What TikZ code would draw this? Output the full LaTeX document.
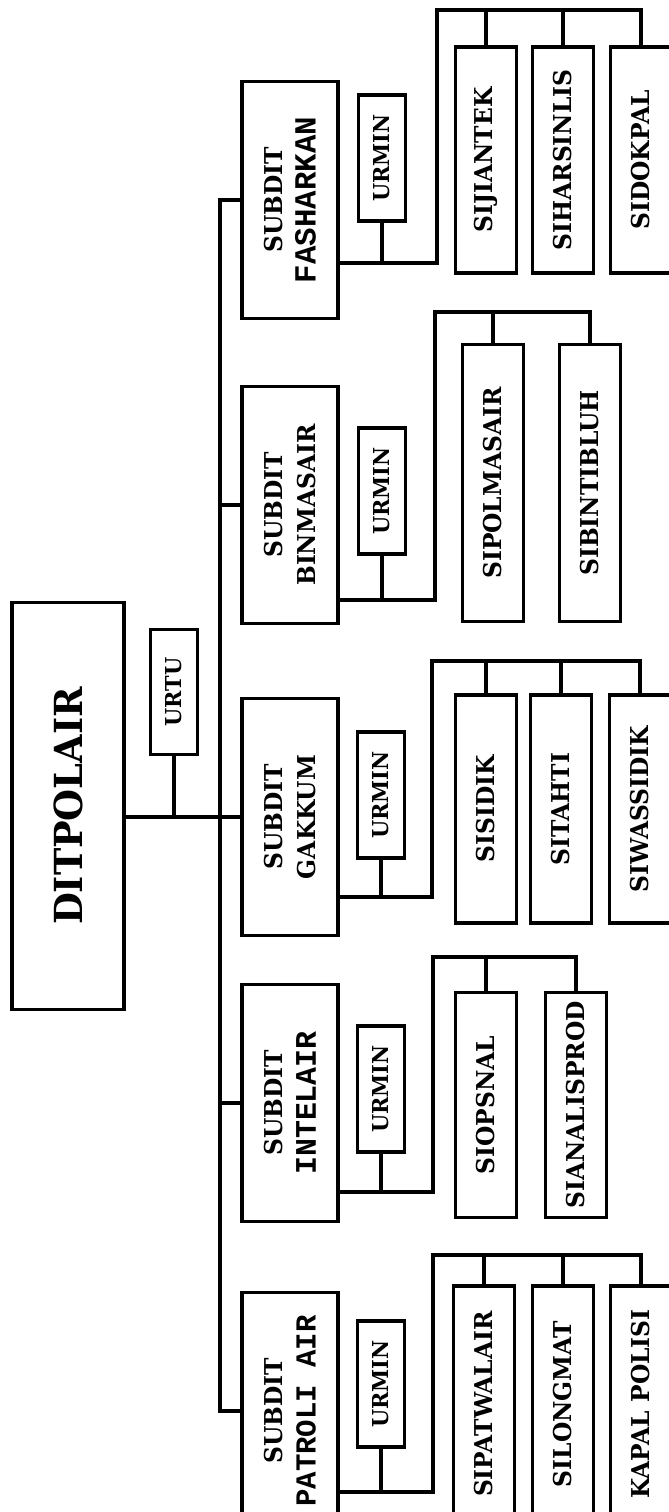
\documentclass[tikz,border=0pt]{standalone}
\usepackage{fontspec}
\setmainfont{DejaVu Serif}[FakeStretch=0.95]
\newfontfamily\typefont{Liberation Mono}
\usepackage{tikz}
\usetikzlibrary{positioning}

\begin{document}
\begin{tikzpicture}[
  x=0.02cm, y=-0.02cm,
  box/.style={draw, line width=2.2pt, rotate=90, inner sep=0pt, align=center,
              font=\bfseries\fontsize{14}{18}\selectfont},
  subbox/.style={box, minimum width=4.74cm, minimum height=1.92cm},
  urbox/.style={box, minimum width=2.52cm, minimum height=0.94cm,
                font=\bfseries\fontsize{12.5}{15}\selectfont},
  sibox/.style={box, minimum height=1.22cm},
  link/.style={line width=2.2pt, line join=miter},
]
  \useasboundingbox (0,0) rectangle (669,1512);

  \node[box, minimum width=8.14cm, minimum height=2.24cm,
        font=\bfseries\fontsize{22}{26}\selectfont] (dit) at (68,806) {DITPOLAIR};
  \node[urbox, minimum width=2.5cm] (urtu) at (174,692) {URTU};

  \node[subbox] (sfash) at (290,200) {SUBDIT\\[1pt]{\typefont\fontsize{17.5}{18}\selectfont FASHARKAN}};
  \node[subbox] (sbinm) at (290,505) {SUBDIT\\[1pt]BINMASAIR};
  \node[subbox] (sgakk) at (290,817) {SUBDIT\\[1pt]GAKKUM};
  \node[subbox] (sintel) at (290,1103) {SUBDIT\\[1pt]{\typefont\fontsize{17}{18}\selectfont INTELAIR}};
  \node[subbox] (spatr) at (290,1411) {SUBDIT\\[1pt]{\typefont\fontsize{16.5}{18}\selectfont PATROLI AIR}};

  \node[urbox] (ufash) at (382,158) {URMIN};
  \node[urbox] (ubinm) at (382,491) {URMIN};
  \node[urbox] (ugakk) at (381,795) {URMIN};
  \node[urbox] (uintel) at (381,1089) {URMIN};
  \node[urbox] (upatr) at (381,1384) {URMIN};

  \node[sibox, minimum width=4.52cm] (kfash1) at (486,160) {SIJIANTEK};
  \node[sibox, minimum width=4.52cm] (kfash2) at (563,160) {SIHARSINLIS};
  \node[sibox, minimum width=4.52cm] (kfash3) at (641,160) {SIDOKPAL};

  \node[sibox, minimum width=5.54cm] (kbinm1) at (493,483) {SIPOLMASAIR};
  \node[sibox, minimum width=5.54cm] (kbinm2) at (590,483) {SIBINTIBLUH};

  \node[sibox, minimum width=4.56cm] (kgakk1) at (486,809) {SISIDIK};
  \node[sibox, minimum width=4.56cm] (kgakk2) at (561,809) {SITAHTI};
  \node[sibox, minimum width=4.56cm] (kgakk3) at (640,809) {SIWASSIDIK};

  \node[sibox, minimum width=4.5cm] (kintel1) at (486,1105) {SIOPSNAL};
  \node[sibox, minimum width=4.5cm] (kintel2) at (576,1105) {SIANALISPROD};

  \node[sibox, minimum width=4.72cm] (kpatr1) at (484,1404) {SIPATWALAIR};
  \node[sibox, minimum width=4.72cm] (kpatr2) at (563,1404) {SILONGMAT};
  \node[sibox, minimum width=4.72cm] (kpatr3) at (641,1404) {KAPAL POLISI};

  \coordinate (trk) at (220,0);
  \coordinate (cfash) at (437,263);   \coordinate (tfash) at (437,10);
  \coordinate (cbinm) at (435,600);   \coordinate (tbinm) at (435,312);
  \coordinate (cgakk) at (432,897);   \coordinate (tgakk) at (432,661);
  \coordinate (cintel) at (433,1192); \coordinate (tintel) at (433,957);
  \coordinate (cpatr) at (433,1492);  \coordinate (tpatr) at (433,1255);

  \draw[link] (dit.south |- sgakk.north) -- (sgakk.north);
  \draw[link] (urtu.west) -- (urtu.west |- sgakk.north);
  \draw[link] (sfash.north) -| (trk |- spatr.north) -- (spatr.north);
  \foreach \s in {sbinm, sintel}
    \draw[link] (trk |- \s.north) -- (\s.north);

  \foreach \g/\last in {fash/kfash3, binm/kbinm2, gakk/kgakk3, intel/kintel2, patr/kpatr3} {
    \draw[link] (u\g.west) -- (u\g.west |- c\g);
    \draw[link] (s\g.south |- c\g) -- (c\g) -- (t\g) -- (t\g -| \last.east) -- (\last.east);
  }
  \foreach \g/\k in {fash/kfash1, fash/kfash2, binm/kbinm1, gakk/kgakk1, gakk/kgakk2,
                     intel/kintel1, patr/kpatr1, patr/kpatr2}
    \draw[link] (t\g -| \k.east) -- (\k.east);
\end{tikzpicture}
\end{document}
